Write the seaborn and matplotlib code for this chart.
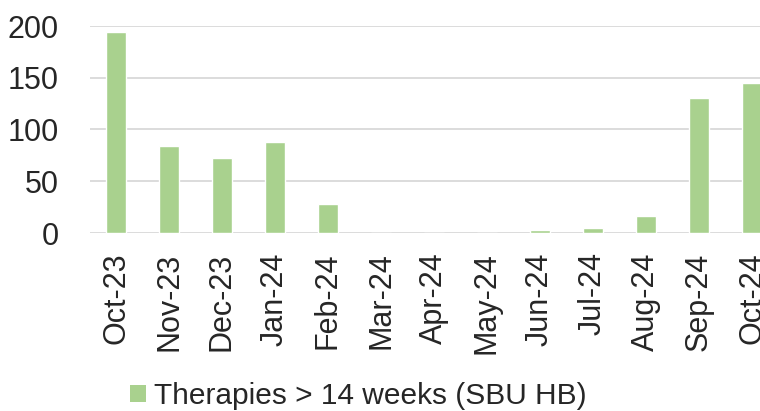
import matplotlib
matplotlib.use("Agg")
import matplotlib.pyplot as plt
import seaborn as sns
import pandas as pd
from matplotlib.patches import Patch

months = ["Oct-23", "Nov-23", "Dec-23", "Jan-24", "Feb-24", "Mar-24", "Apr-24",
          "May-24", "Jun-24", "Jul-24", "Aug-24", "Sep-24", "Oct-24"]
values = [194, 84, 72, 88, 28, 0, 0, 0, 3, 5, 16, 130, 145]
series_name = "Therapies > 14 weeks (SBU HB)"
yticks = [0, 50, 100, 150, 200]

df = pd.DataFrame({"month": months, "value": values})

sns.set_theme(style="white")
plt.rcParams["font.family"] = ["Liberation Sans", "DejaVu Sans"]

green = "#A9D18E"
fig = plt.figure(figsize=(7.6, 4.11), dpi=100)
# 13 categories, spacing 53 px, first center at 116 px
left_px = 116 - 26.5
width_px = 53 * 13
ax = fig.add_axes([left_px / 760, 178 / 411, width_px / 760, 207 / 411])

sns.barplot(data=df, x="month", y="value", color=green, saturation=1,
            width=0.38, ax=ax)

ax.set_ylim(0, 200)
ax.set_yticks(yticks)
ax.set_xlim(-0.5, len(months) - 0.5)
ax.yaxis.grid(True, color="#D9D9D9", linewidth=1.3)
ax.set_axisbelow(True)
for s in ax.spines.values():
    s.set_visible(False)
ax.set_xlabel("")
ax.set_ylabel("")
ax.tick_params(axis="y", labelsize=22, colors="#262626", length=0, pad=22)
ax.tick_params(axis="x", labelsize=22, colors="#262626", length=0, pad=14,
               labelrotation=90)

handle = Patch(facecolor=green, edgecolor="none")
fig.legend([handle], [series_name], loc="center left",
           bbox_to_anchor=(130 / 760, 1 - 396 / 411), frameon=False,
           fontsize=21.5, handlelength=0.52, handleheight=0.52,
           handletextpad=0.28, borderaxespad=0, borderpad=0)

fig.savefig("out.png", dpi=100)
